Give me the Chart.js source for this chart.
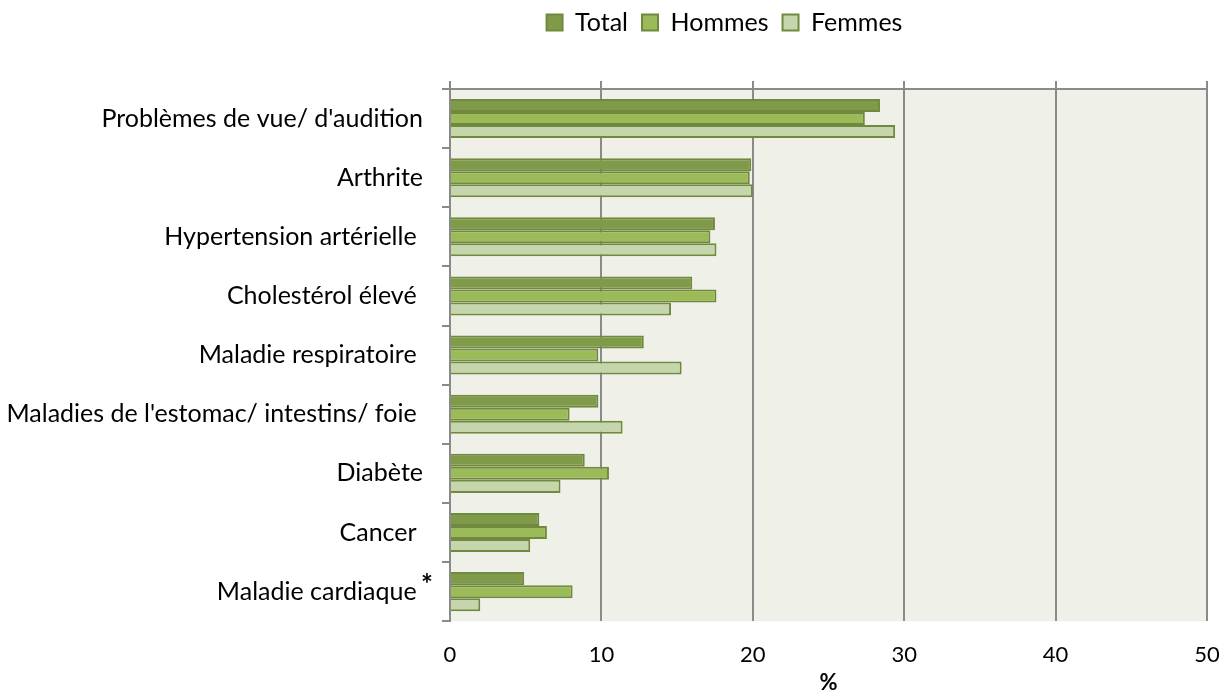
<!DOCTYPE html>
<html>
<head>
<meta charset="utf-8">
<script src="https://cdn.jsdelivr.net/npm/chart.js@4"></script>
<style>
  html, body { margin: 0; padding: 0; background: #ffffff; }
  #wrap { width: 1227px; height: 698px; }
</style>
</head>
<body>
<div id="wrap"><canvas id="chart"></canvas></div>
<script>
const categories = [
    "Problèmes de vue/ d'audition",
    'Arthrite',
    'Hypertension artérielle ',
    'Cholestérol élevé ',
    'Maladie respiratoire ',
    "Maladies de l'estomac/ intestins/ foie ",
    'Diabète',
    'Cancer ',
    'Maladie cardiaque '
];
const totalValues = [28.4, 19.9, 17.5, 16.0, 12.8, 9.8, 8.9, 5.9, 4.9];
const hommesValues = [27.4, 19.8, 17.2, 17.6, 9.8, 7.9, 10.5, 6.4, 8.1];
const femmesValues = [29.4, 20.0, 17.6, 14.6, 15.3, 11.4, 7.3, 5.3, 2.0];
const xTicks = [0, 10, 20, 30, 40, 50];

const fontFamily = 'Lato, "Open Sans", sans-serif';
const gridGray = '#8a8a8a';
const barBorder = '#71893f';

const plotBackground = {
    id: 'plotBackground',
    beforeDraw(chart) {
        const a = chart.chartArea;
        const ctx = chart.ctx;
        ctx.save();
        ctx.fillStyle = '#eff1e8';
        ctx.fillRect(a.left, a.top, a.right - a.left, a.bottom - a.top);
        ctx.restore();
    }
};

// superscript asterisk after "Maladie cardiaque"
const asterisk = {
    id: 'asterisk',
    afterDraw(chart) {
        const y = chart.scales.y.getPixelForValue(8);
        const ctx = chart.ctx;
        ctx.save();
        ctx.font = 'bold 28px ' + fontFamily;
        ctx.fillStyle = '#000';
        ctx.textAlign = 'left';
        ctx.textBaseline = 'middle';
        ctx.fillText('*', chart.scales.y.right - 29, y - 7);
        ctx.restore();
    }
};

// extra room under the legend, and legend moved like the original
const legendSpace = {
    id: 'legendSpace',
    beforeInit(chart) {
        const fit = chart.legend.fit;
        chart.legend.fit = function () {
            fit.bind(chart.legend)();
            this.height += 32;
        };
    },
    afterLayout(chart) {
        chart.legend.left += 121;
        chart.legend.right += 121;
        chart.legend.top -= 4;
        chart.legend.bottom -= 4;
    }
};

new Chart(document.getElementById('chart'), {
    type: 'bar',
    data: {
        labels: categories,
        datasets: [
            {
                label: 'Total',
                data: totalValues,
                backgroundColor: '#7f9a48',
                borderColor: barBorder,
                borderWidth: 2
            },
            {
                label: 'Hommes',
                data: hommesValues,
                backgroundColor: '#9bbb59',
                borderColor: barBorder,
                borderWidth: 2
            },
            {
                label: 'Femmes',
                data: femmesValues,
                backgroundColor: '#c6d6ac',
                borderColor: barBorder,
                borderWidth: 2
            }
        ]
    },
    options: {
        indexAxis: 'y',
        responsive: true,
        maintainAspectRatio: false,
        animation: false,
        categoryPercentage: 0.66,
        barPercentage: 1.0,
        layout: { padding: { left: 0, right: 20, top: 0, bottom: 2 } },
        plugins: {
            legend: {
                position: 'top',
                labels: {
                    font: { family: fontFamily, size: 25 },
                    color: '#000',
                    boxWidth: 16,
                    boxHeight: 16,
                    padding: 14
                }
            },
            tooltip: { enabled: false }
        },
        scales: {
            x: {
                position: 'bottom',
                min: 0,
                max: 50,
                afterBuildTicks(scale) {
                    scale.ticks = xTicks.map(v => ({ value: v }));
                },
                afterFit(scale) {
                    scale.paddingRight = 0;
                },
                grid: {
                    color: gridGray,
                    lineWidth: 2,
                    drawTicks: false
                },
                border: { display: false },
                ticks: {
                    font: { family: fontFamily, size: 22 },
                    color: '#000',
                    padding: 21
                },
                title: {
                    display: true,
                    text: '%',
                    font: { family: fontFamily, size: 22, weight: 'bold' },
                    color: '#000',
                    padding: { top: -20, bottom: 0 }
                }
            },
            x2: {
                position: 'top',
                min: 0,
                max: 50,
                afterBuildTicks(scale) {
                    scale.ticks = xTicks.map(v => ({ value: v }));
                },
                afterFit(scale) {
                    scale.paddingRight = 0;
                },
                grid: {
                    color: gridGray,
                    lineWidth: 2,
                    drawOnChartArea: false,
                    tickLength: 8
                },
                border: { color: gridGray, width: 2 },
                ticks: { display: false }
            },
            y: {
                afterFit(scale) {
                    scale.width = 450;
                },
                grid: {
                    color: gridGray,
                    lineWidth: 2,
                    drawOnChartArea: false,
                    tickLength: 8
                },
                border: { color: gridGray, width: 2 },
                ticks: {
                    font: { family: fontFamily, size: 25 },
                    color: '#000',
                    padding: 19
                }
            }
        }
    },
    plugins: [plotBackground, asterisk, legendSpace]
});
</script>
</body>
</html>
